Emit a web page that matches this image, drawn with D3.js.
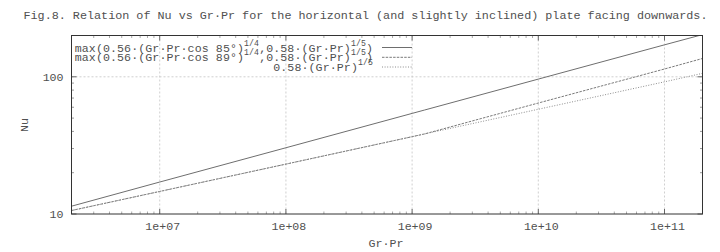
<!DOCTYPE html>
<html>
<head>
<meta charset="utf-8">
<script src="https://cdn.jsdelivr.net/npm/d3@7/dist/d3.min.js"></script>
<style>
  html, body { margin: 0; padding: 0; background: #fff; }
  svg { display: block; }
  text { font-family: "Liberation Mono", "Courier New", "DejaVu Sans Mono", monospace; fill: #505050; }
</style>
</head>
<body>
<svg id="chart" width="720" height="252"></svg>
<script>
// ---- data ----
const xGrPr  = [2e6, 1e7, 1e8, 1e9, 1.25e9, 1e10, 1e11, 2e11];
const nu85   = [11.4, 17.1, 30.4, 54.1, 57.2, 96.2, 171, 203];   // max(0.56(GrPr cos85)^1/4, 0.58 GrPr^1/5)
const nu89   = [10.6, 14.6, 23.1, 36.6, 38.3, 64.4, 114, 136];   // max(0.56(GrPr cos89)^1/4, 0.58 GrPr^1/5)
const nuPow  = [10.6, 14.6, 23.1, 36.6, 38.3, 58.0, 91.9, 106];  // 0.58 GrPr^1/5
const xDomain = [2e6, 2e11];
const yDomain = [10, 200];
const xTickValues = [1e7, 1e8, 1e9, 1e10, 1e11];
const xTickLabels = ["1e+07", "1e+08", "1e+09", "1e+10", "1e+11"];
const yTickValues = [10, 100];
const yTickLabels = ["10", "100"];
const titleText = "Fig.8. Relation of Nu vs Gr\u00b7Pr for the horizontal (and slightly inclined) plate facing downwards.";
const xLabel = "Gr\u00b7Pr";
const yLabel = "Nu";

const svg = d3.select("#chart");
const m = { left: 71.5, right: 702.5, top: 35.5, bottom: 214 };
const x = d3.scaleLog().domain(xDomain).range([m.left, m.right]);
const y = d3.scaleLog().domain(yDomain).range([m.bottom, m.top]);
const FS = 11.6;

// title
svg.append("text").attr("x", 365.5).attr("y", 19).attr("text-anchor", "middle")
  .style("font-size", "11.75px").text(titleText);

// grid
const grid = svg.append("g").attr("stroke", "#c4c4c4").attr("stroke-width", 0.8).attr("stroke-dasharray", "2,2");
xTickValues.forEach(v => grid.append("line").attr("x1", x(v)).attr("x2", x(v)).attr("y1", m.top).attr("y2", m.bottom));
yTickValues.filter(v => v > yDomain[0]).forEach(v => grid.append("line").attr("x1", m.left).attr("x2", m.right).attr("y1", y(v)).attr("y2", y(v)));

// minor ticks
const xMinor = [];
for (let e = 6; e <= 11; e++) for (let k = 2; k <= 9; k++) { const v = k * Math.pow(10, e); if (v > xDomain[0] && v < xDomain[1]) xMinor.push(v); }
const yMinor = [];
for (let e = 1; e <= 2; e++) for (let k = 2; k <= 9; k++) { const v = k * Math.pow(10, e); if (v > yDomain[0] && v < yDomain[1]) yMinor.push(v); }

const ticks = svg.append("g").attr("stroke", "#666").attr("stroke-width", 1);
xTickValues.forEach(v => {
  ticks.append("line").attr("x1", x(v)).attr("x2", x(v)).attr("y1", m.bottom).attr("y2", m.bottom - 5);
  ticks.append("line").attr("x1", x(v)).attr("x2", x(v)).attr("y1", m.top).attr("y2", m.top + 5);
});
xMinor.forEach(v => {
  ticks.append("line").attr("x1", x(v)).attr("x2", x(v)).attr("y1", m.bottom).attr("y2", m.bottom - 2.5).attr("stroke", "#aaa");
  ticks.append("line").attr("x1", x(v)).attr("x2", x(v)).attr("y1", m.top).attr("y2", m.top + 2.5).attr("stroke", "#aaa");
});
yTickValues.forEach(v => {
  ticks.append("line").attr("x1", m.left).attr("x2", m.left + 5).attr("y1", y(v)).attr("y2", y(v));
  ticks.append("line").attr("x1", m.right).attr("x2", m.right - 5).attr("y1", y(v)).attr("y2", y(v));
});
yMinor.forEach(v => {
  ticks.append("line").attr("x1", m.left).attr("x2", m.left + 2.5).attr("y1", y(v)).attr("y2", y(v)).attr("stroke", "#999");
  ticks.append("line").attr("x1", m.right).attr("x2", m.right - 2.5).attr("y1", y(v)).attr("y2", y(v)).attr("stroke", "#999");
});

// tick labels
xTickValues.forEach((v, i) => svg.append("text").attr("x", x(v) + 3).attr("y", 230)
  .attr("text-anchor", "middle").style("font-size", FS + "px").text(xTickLabels[i]));
yTickValues.forEach((v, i) => svg.append("text").attr("x", 63.5).attr("y", y(v) + 4)
  .attr("text-anchor", "end").style("font-size", FS + "px").text(yTickLabels[i]));

// axis labels
svg.append("text").attr("x", 386).attr("y", 247).attr("text-anchor", "middle").style("font-size", FS + "px").text(xLabel);
svg.append("text").attr("transform", "translate(28,125) rotate(-90)").attr("text-anchor", "middle")
  .style("font-size", FS + "px").text(yLabel);

// clip
svg.append("clipPath").attr("id", "clip").append("rect")
  .attr("x", m.left).attr("y", m.top).attr("width", m.right - m.left).attr("height", m.bottom - m.top);

const line = d3.line().x(d => x(d[0])).y(d => y(d[1]));
const series = [
  { vals: nu85,  stroke: "#6e6e6e", dash: null,    w: 1 },
  { vals: nu89,  stroke: "#7a7a7a", dash: "2.5,1.2", w: 1 },
  { vals: nuPow, stroke: "#8c8c8c", dash: "1,1.6", w: 1 }
];
const plot = svg.append("g").attr("clip-path", "url(#clip)");
series.forEach(s => {
  plot.append("path").datum(xGrPr.map((xv, i) => [xv, s.vals[i]]))
    .attr("d", line).attr("fill", "none").attr("stroke", s.stroke)
    .attr("stroke-width", s.w).attr("stroke-dasharray", s.dash);
});

// legend
const LFS = 11.6, SFS = 8.2;
const legendRows = [
  [["max(0.56\u00b7(Gr\u00b7Pr\u00b7cos 85\u00b0)", 0], ["1/4", 1], [",0.58\u00b7(Gr\u00b7Pr)", 0], ["1/5", 1], [")", 0]],
  [["max(0.56\u00b7(Gr\u00b7Pr\u00b7cos 89\u00b0)", 0], ["1/4", 1], [",0.58\u00b7(Gr\u00b7Pr)", 0], ["1/5", 1], [")", 0]],
  [["0.58\u00b7(Gr\u00b7Pr)", 0], ["1/5", 1]]
];
const rowBase = [51.5, 61.3, 71];
legendRows.forEach((row, r) => {
  const t = svg.append("text").attr("x", 373).attr("y", rowBase[r]).attr("text-anchor", "end")
    .style("font-size", LFS + "px").style("letter-spacing", "0.1px");
  let up = false;
  row.forEach(([str, sup]) => {
    const ts = t.append("tspan").text(str).style("font-size", (sup ? SFS : LFS) + "px");
    if (sup && !up) { ts.attr("dy", -6); up = true; }
    else if (!sup && up) { ts.attr("dy", 6); up = false; }
  });
  const s = series[r];
  svg.append("line").attr("x1", 382).attr("x2", 412).attr("y1", rowBase[r] - 4).attr("y2", rowBase[r] - 4)
    .attr("stroke", s.stroke).attr("stroke-width", s.w).attr("stroke-dasharray", s.dash);
});

// border
svg.append("rect").attr("x", m.left).attr("y", m.top).attr("width", m.right - m.left).attr("height", m.bottom - m.top)
  .attr("fill", "none").attr("stroke", "#333").attr("stroke-width", 1);
</script>
</body>
</html>
